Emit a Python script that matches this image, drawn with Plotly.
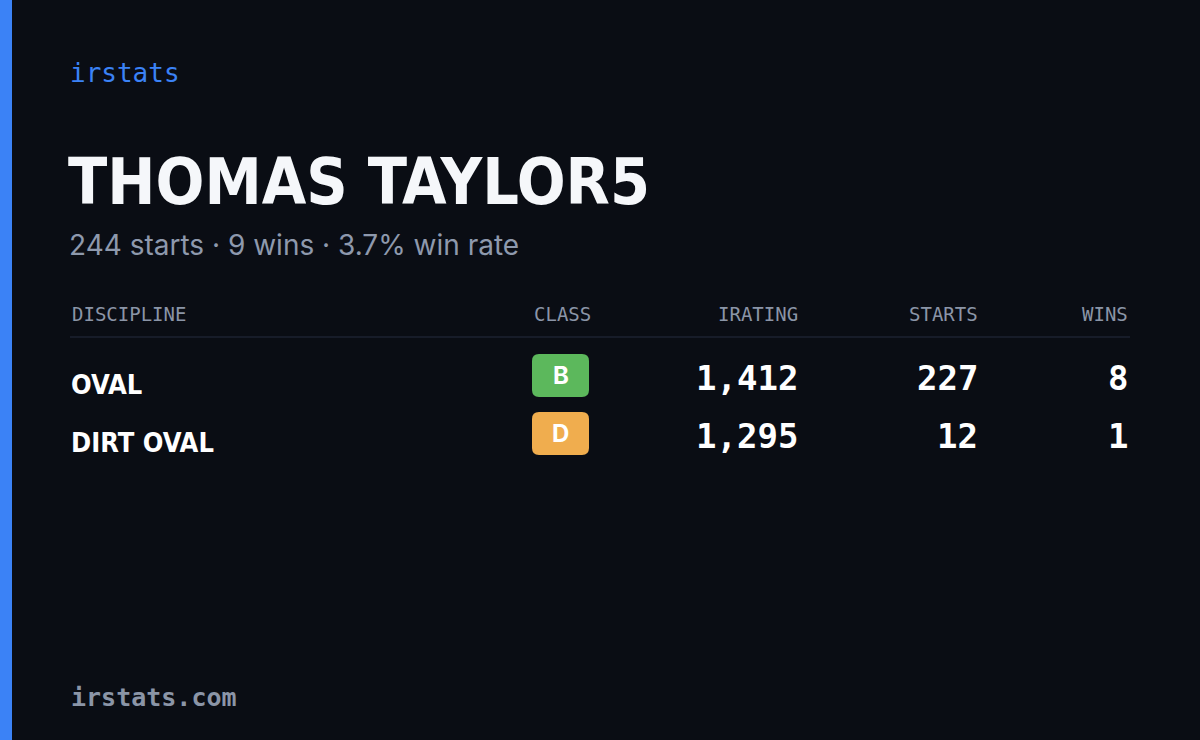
import plotly.graph_objects as go

brand = "irstats"
footer = "irstats.com"
name = "THOMAS TAYLOR5"
subtitle = "244 starts · 9 wins · 3.7% win rate"
headers = ["DISCIPLINE", "CLASS", "IRATING", "STARTS", "WINS"]
disciplines = ["OVAL", "DIRT OVAL"]
classes = ["B", "D"]
class_colors = ["#5cb85c", "#f0ad4e"]
iratings = [1412, 1295]
starts = [227, 12]
wins = [8, 1]

row_y = [378, 436]
BG = "#0a0d14"
MONO = "DejaVu Sans Mono, Liberation Mono, monospace"
COND = "DejaVu Sans Condensed, Liberation Sans Narrow, sans-serif"
SANS = "Inter, Noto Sans, sans-serif"

fig = go.Figure()

def txt(x, y, s, size, color, family, anchor="left", weight="normal"):
    fig.add_annotation(x=x, y=y, text=s, xref="x", yref="y", showarrow=False,
                       xanchor=anchor, yanchor="middle",
                       font=dict(size=size, color=color, family=family, weight=weight))

txt(68, 73, brand, 26, "#3b82f6", MONO)
txt(66, 182, name, 64, "#f5f7fa", COND, weight="bold")
txt(67, 245, subtitle, 28, "#8e99ad", SANS)

hx = [70, 593, 800, 980, 1130]
ha = ["left", "right", "right", "right", "right"]
for h, x, a in zip(headers, hx, ha):
    txt(x, 314, h, 19, "#8b95a7", MONO, a)

fig.add_shape(type="line", x0=70, x1=1130, y0=337, y1=337, line=dict(color="#1c2230", width=1.5))

def rrect(x0, y0, x1, y1, r):
    return (f"M{x0+r},{y0} L{x1-r},{y0} Q{x1},{y0} {x1},{y0+r} L{x1},{y1-r} Q{x1},{y1} {x1-r},{y1} "
            f"L{x0+r},{y1} Q{x0},{y1} {x0},{y1-r} L{x0},{y0+r} Q{x0},{y0} {x0+r},{y0} Z")

for i, y in enumerate(row_y):
    txt(69, y + 6, disciplines[i], 27, "#ffffff", COND, weight="bold")
    fig.add_shape(type="path", path=rrect(532, y - 24, 589, y + 19, 7),
                  fillcolor=class_colors[i], line=dict(width=0))
    txt(560.5, y - 3, classes[i], 24, "#ffffff", SANS, "center", "bold")
    txt(800, y, f"{iratings[i]:,}", 34, "#ffffff", MONO, "right", "bold")
    txt(980, y, f"{starts[i]:,}", 34, "#ffffff", MONO, "right", "bold")
    txt(1130, y, f"{wins[i]:,}", 34, "#ffffff", MONO, "right", "bold")

txt(69, 697, footer, 25, "#8b95a7", MONO, weight="bold")

fig.add_shape(type="rect", x0=0, x1=12, y0=0, y1=740, fillcolor="#3b82f6", line=dict(width=0))

fig.update_layout(width=1200, height=740, margin=dict(l=0, r=0, t=0, b=0),
                  paper_bgcolor=BG, plot_bgcolor=BG, showlegend=False,
                  xaxis=dict(range=[0, 1200], visible=False, fixedrange=True),
                  yaxis=dict(range=[740, 0], visible=False, fixedrange=True))
fig.write_html("out.html", config={"displayModeBar": False},
               post_script="document.body.style.margin='0';document.body.style.overflow='hidden';document.body.style.background='#0a0d14';")
